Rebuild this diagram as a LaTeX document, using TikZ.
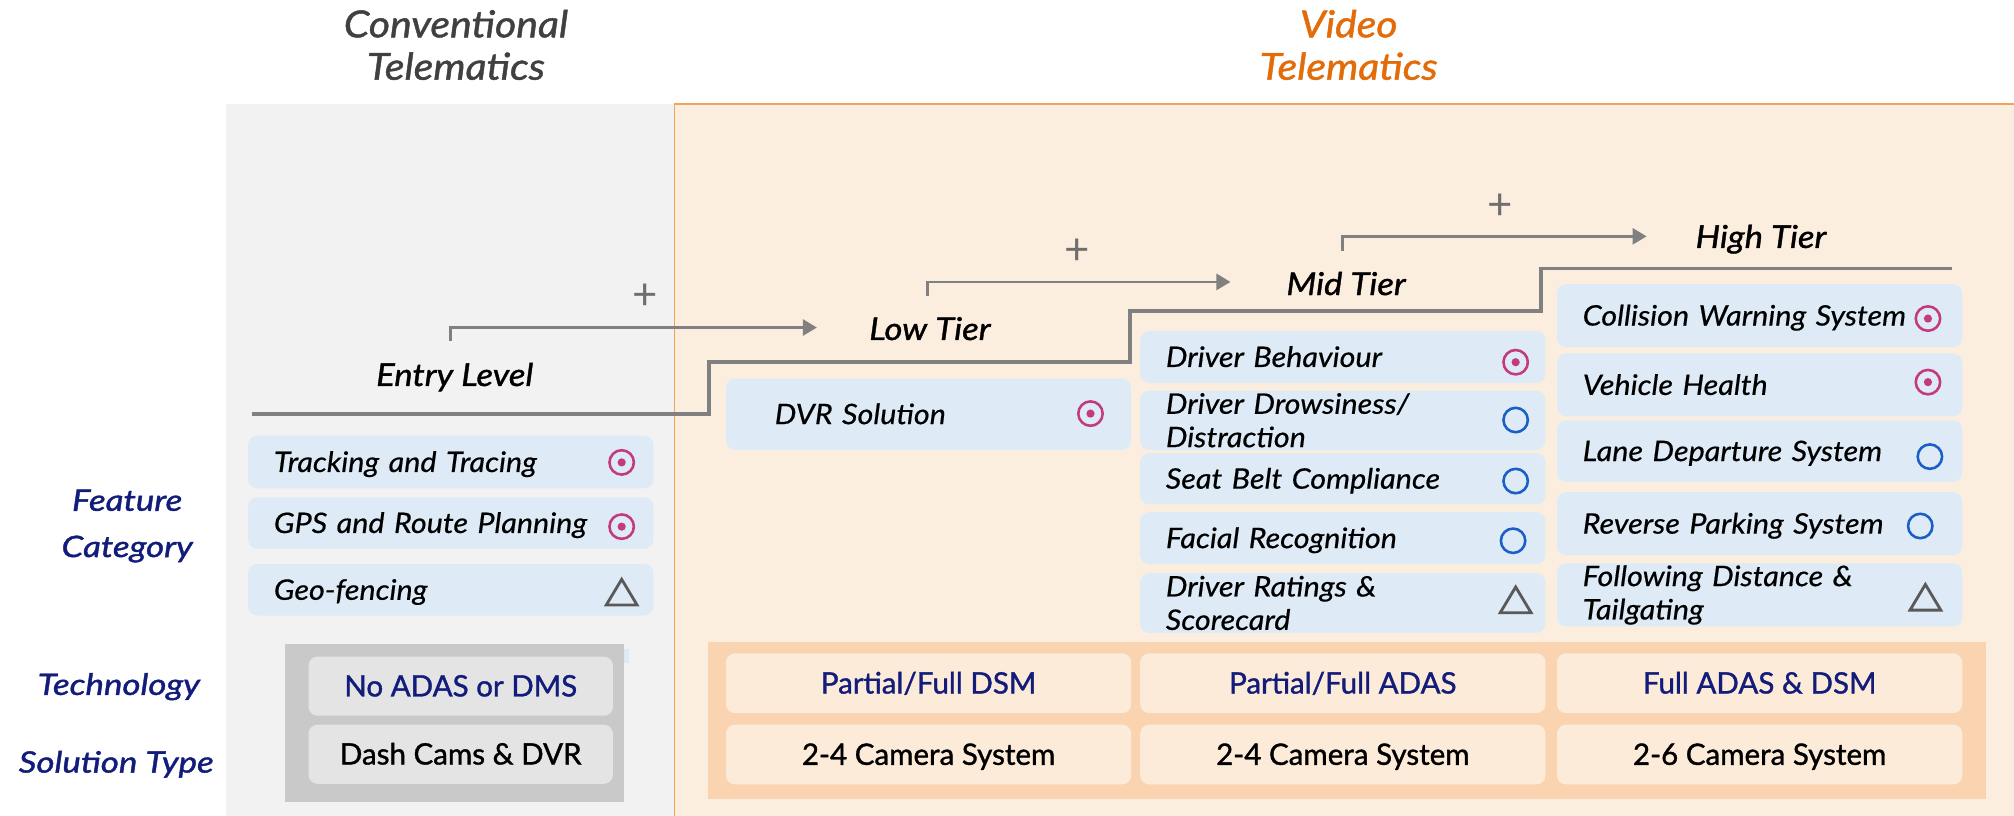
\documentclass[tikz,border=0pt]{standalone}
\usepackage{fontspec}
\setmainfont{Lato}
\newfontfamily\semifont[FakeBold=1.2]{Lato}
\newfontfamily\featfont[FakeStretch=1.08, FakeBold=0.5]{Lato}
\newfontfamily\tierfont[FakeStretch=1.1, FakeBold=1.2]{Lato}
\newfontfamily\sidefont[FakeStretch=1.18, FakeBold=1.4]{Lato}
\usetikzlibrary{arrows.meta,positioning,calc}

\definecolor{panelgrey}{HTML}{F2F2F2}
\definecolor{panelpeach}{HTML}{FCEEDF}
\definecolor{panelline}{HTML}{F0A35E}
\definecolor{bandorange}{HTML}{FAD4B0}
\definecolor{techfill}{HTML}{FDEBD9}
\definecolor{featblue}{HTML}{DEEBF7}
\definecolor{entrydark}{HTML}{C9C9C9}
\definecolor{entrylight}{HTML}{E4E4E4}
\definecolor{navy}{HTML}{121C7A}
\definecolor{headorange}{HTML}{E36C0A}
\definecolor{headgrey}{HTML}{404040}
\definecolor{stairgrey}{HTML}{808080}
\definecolor{plusgrey}{HTML}{6E6E6E}
\definecolor{coremag}{HTML}{C43B7D}
\definecolor{optblue}{HTML}{1A5FC8}
\definecolor{trigrey}{HTML}{595959}

\tikzset{
  featbox/.style={rectangle, rounded corners=7pt, fill=featblue, anchor=north west,
    inner xsep=20pt, inner ysep=0pt, text width=275.5pt, align=left,
    font={\fontsize{22}{26}\selectfont\featfont\itshape}},
  oneline/.style={text height=15.5pt, text depth=0pt},
  techbox/.style={rectangle, rounded corners=7pt, fill=techfill, anchor=north west,
    minimum width=315.5pt, minimum height=46.5pt, inner sep=0pt,
    text height=16pt, text depth=0pt, font={\fontsize{23}{27}\selectfont\semifont}},
  tierlabel/.style={anchor=base, inner sep=0pt, font={\fontsize{24.5}{28}\selectfont\tierfont\itshape}},
  headlabel/.style={anchor=north, align=center, inner sep=0pt, font={\fontsize{29}{33}\selectfont\tierfont\itshape}},
  sidelabel/.style={text=navy, inner sep=0pt, font={\fontsize{23}{36}\selectfont\sidefont\itshape}},
  stair/.style={draw=stairgrey, line width=3pt},
  tierarrow/.style={draw=stairgrey, line width=2.2pt, -{Triangle[length=11pt,width=12.5pt]}},
  plussign/.style={text=plusgrey, inner sep=0pt, font={\fontsize{34}{34}\selectfont}},
  target/.pic={\draw[coremag, line width=2pt] (0,0) circle (9.5pt); \fill[coremag] (0,0) circle (3.2pt);},
  ring/.pic={\draw[optblue, line width=2pt] (0,0) circle (9.5pt);},
  warn/.pic={\draw[trigrey, line width=2.2pt, line join=miter] (0,-11) -- (12,9) -- (-12,9) -- cycle;}
}

\begin{document}
\begin{tikzpicture}[x=1pt, y=-1pt]
    \useasboundingbox (0,0) rectangle (1568,635);

    % Background panels
    \fill[panelgrey] (176,81) rectangle (525,635);
    \fill[panelpeach] (525,81) rectangle (1568,635);
    \draw[panelline, line width=1.3pt] (525,635) -- (525,81) -- (1568,81);

    % Headers
    \node[headlabel, text=headgrey] (conv) at (355,7.5) {Conventional\\Telematics};
    \node[headlabel, text=headorange] (video) at (1050,7.5) {Video\\Telematics};

    % Row labels
    \node[sidelabel, anchor=north, align=center] (featcat) at (99,381) {Feature\\Category};
    \node[sidelabel, anchor=base] (techlab) at (92.5,541) {Technology};
    \node[sidelabel, anchor=base] (sollab) at (90.5,601.5) {Solution Type};

    % Tier staircase
    \coordinate (s0) at (196,322);
    \coordinate (s1) at (552,282);
    \coordinate (s2) at (880,242);
    \coordinate (s3) at (1200,209);
    \coordinate (s4) at (1520,209);
    \draw[stair] (s0) -| (s1) -| (s2) -| (s3) -- (s4);

    \node[tierlabel] (entry) at (354,300.5) {Entry Level};
    \node[tierlabel] (low) at (724,264.7) {Low Tier};
    \node[tierlabel] (mid) at (1048,229.7) {Mid Tier};
    \node[tierlabel] (high) at (1371,193) {High Tier};

    % Upgrade arrows
    \coordinate (a1s) at (351,265.5);
    \coordinate (a1e) at (636,255);
    \coordinate (a2s) at (722,230.5);
    \coordinate (a2e) at (958,219.5);
    \coordinate (a3s) at (1045.5,195.5);
    \coordinate (a3e) at (1282,184);
    \draw[tierarrow] (a1s) |- (a1e);
    \draw[tierarrow] (a2s) |- (a2e);
    \draw[tierarrow] (a3s) |- (a3e);

    \node[plussign] (p1) at (502,231) {+};
    \node[plussign] (p2) at (839,196) {+};
    \node[plussign] (p3) at (1168,161) {+};

    % Entry level features
    \node[featbox, oneline, minimum height=41pt] (track) at (193,339) {Tracking and Tracing};
    \node[featbox, oneline, minimum height=40pt] (gps) at (193,387) {GPS and Route Planning};
    \node[featbox, oneline, minimum height=40pt] (geo) at (193,439) {Geo-fencing};
    \pic at (484,360) {target};
    \pic at (484,410) {target};
    \pic at (484,462) {warn};

    % Low tier features
    \node[featbox, oneline, minimum height=55.5pt, inner xsep=38pt, text width=239.5pt] (dvr) at (565,294.5) {DVR Solution};
    \pic at (849,322) {target};

    % Mid tier features
    \node[featbox, oneline, minimum height=40.5pt] (behav) at (887.5,257.5) {Driver Behaviour};
    \node[featbox, minimum height=46pt] (drowsy) at (887.5,304) {Driver Drowsiness/\\Distraction};
    \node[featbox, oneline, minimum height=40pt] (belt) at (887.5,352.5) {Seat Belt Compliance};
    \node[featbox, oneline, minimum height=40.5pt] (face) at (887.5,398.5) {Facial Recognition};
    \node[featbox, minimum height=46.5pt] (rating) at (887.5,446) {Driver Ratings \&\\Scorecard};
    \pic at (1180,282) {target};
    \pic at (1180,327) {ring};
    \pic at (1180,374.5) {ring};
    \pic at (1178,421) {ring};
    \pic at (1180,468) {warn};

    % High tier features
    \node[featbox, oneline, minimum height=49pt] (collide) at (1212,221) {Collision Warning System};
    \node[featbox, oneline, minimum height=49pt] (health) at (1212,275) {Vehicle Health};
    \node[featbox, oneline, minimum height=48pt] (lane) at (1212,327) {Lane Departure System};
    \node[featbox, oneline, minimum height=49pt] (park) at (1212,383) {Reverse Parking System};
    \node[featbox, minimum height=49pt] (follow) at (1212,438.5) {Following Distance \&\\Tailgating};
    \pic at (1501,248) {target};
    \pic at (1501,297.5) {target};
    \pic at (1502.5,355.5) {ring};
    \pic at (1495,409.5) {ring};
    \pic at (1499,466) {warn};

    % Entry technology and solution
    \fill[entrydark] (222,501) rectangle (486,624);
    \fill[featblue] (486,505) rectangle (490,516);
    \node[techbox, fill=entrylight, minimum width=237pt, minimum height=46pt, text=navy] (noadas) at (240,511) {No ADAS or DMS};
    \node[techbox, fill=entrylight, minimum width=237pt, minimum height=46pt] (dashcam) at (240,564) {Dash Cams \& DVR};

    % Video technology and solution
    \fill[bandorange] (551,500) rectangle (1546,622);
    \node[techbox, text=navy] (dsm) at (565,508.5) {Partial/Full DSM};
    \node[techbox, text=navy] (adas) at (887.5,508.5) {Partial/Full ADAS};
    \node[techbox, text=navy] (fullsys) at (1212,508.5) {Full ADAS \& DSM};
    \node[techbox] (cam1) at (565,564) {2-4 Camera System};
    \node[techbox] (cam2) at (887.5,564) {2-4 Camera System};
    \node[techbox] (cam3) at (1212,564) {2-6 Camera System};
\end{tikzpicture}
\end{document}
